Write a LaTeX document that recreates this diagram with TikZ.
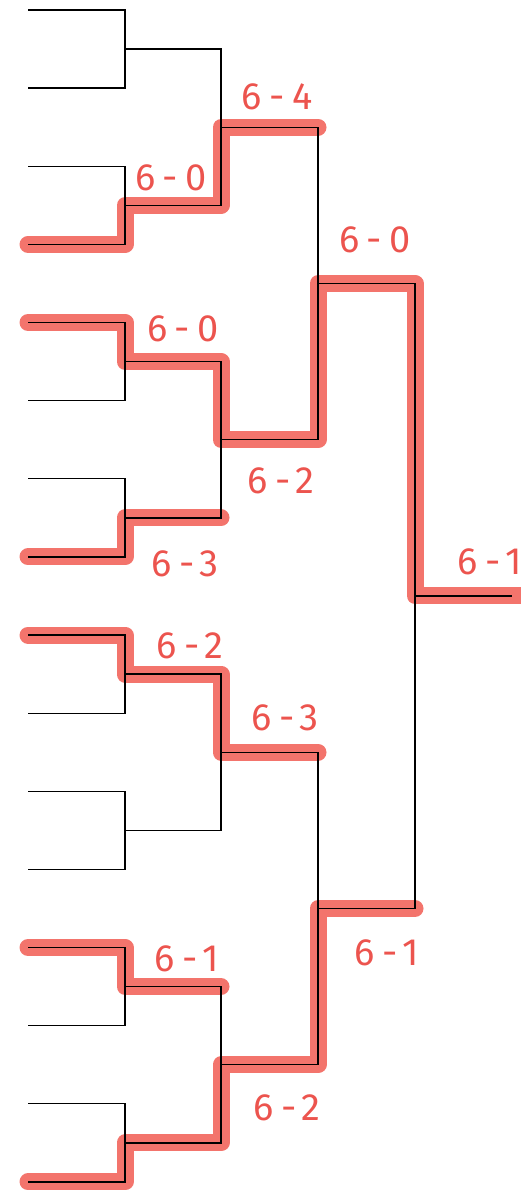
\documentclass[tikz,border=0pt]{standalone}
\usepackage{fontspec}
\usepackage{tikz}
\usetikzlibrary{calc}
\newfontfamily\scorefont[LetterSpace=20]{Fira Sans}
\definecolor{marker}{RGB}{243,116,108}
\definecolor{pen}{RGB}{236,84,78}
\tikzset{
  bracket/.style={line width=1.3pt, black},
  hl/.style={line width=17pt, marker, line cap=round, line join=round},
  score/.style={text=pen, font=\scorefont\fontsize{38}{38}\selectfont, inner sep=0pt}
}

\begin{document}
\begin{tikzpicture}[x=1pt, y=-1pt]
      \useasboundingbox (0,0) rectangle (520,1196);
      % Entries and match points
      \foreach \i in {1,...,16}
        \coordinate (e\i) at (28, {10+78.13*(\i-1)});
      \foreach \j in {1,...,8}
        \coordinate (a\j) at (125, {10+78.13*(2*\j-1.5)});
      \foreach \k in {1,...,4}
        \coordinate (b\k) at (221, {10+78.13*(4*\k-2.5)});
      \foreach \m in {1,2}
        \coordinate (c\m) at (318, {10+78.13*(8*\m-4.5)});
      \coordinate (d) at (415, {10+78.13*7.5});
      \coordinate (w) at (512, {10+78.13*7.5});
      \coordinate (wr) at (520, {10+78.13*7.5});

      % Highlighted winners
      \draw[hl] (e4) -| (a2) -| (b1) -- (b1 -| c1);
      \draw[hl] (e5) -| (a3) -| (b2) -| (c1) -| (d) -- (wr);
      \draw[hl] (e8) -| (a4) -- (a4 -| b2);
      \draw[hl] (e9) -| (a5) -| (b3) -- (b3 -| c2);
      \draw[hl] (e13) -| (a7) -- (a7 -| b4);
      \draw[hl] (e16) -| (a8) -| (b4) -| (c2) -- (c2 -| d);

      % First round
      \foreach \j [evaluate=\j as \p using int(2*\j-1),
                   evaluate=\j as \q using int(2*\j)] in {1,...,8}
        \draw[bracket] (e\p) -| (a\j) |- (e\q);
      % Second round
      \foreach \k [evaluate=\k as \p using int(2*\k-1),
                   evaluate=\k as \q using int(2*\k)] in {1,...,4}
        \draw[bracket] (a\p) -| (b\k) |- (a\q);
      % Third round
      \foreach \m [evaluate=\m as \p using int(2*\m-1),
                   evaluate=\m as \q using int(2*\m)] in {1,2}
        \draw[bracket] (b\p) -| (c\m) |- (b\q);
      % Final
      \draw[bracket] (c1) -| (d) |- (c2);
      \draw[bracket] (d) -- (w);

      % Scores
      \node[score] (s1) at (171,178) {6-0};
      \node[score] (s2) at (277,97) {6-4};
      \node[score] (s3) at (375,240) {6-0};
      \node[score] (s4) at (183,329) {6-0};
      \node[score] (s5) at (281,481) {6-2};
      \node[score] (s6) at (185,564) {6-3};
      \node[score] (s7) at (490,562) {6-1};
      \node[score] (s8) at (190,646) {6-2};
      \node[score] (s9) at (285,718) {6-3};
      \node[score] (s10) at (187,959) {6-1};
      \node[score] (s11) at (287,1108) {6-2};
      \node[score] (s12) at (387,953) {6-1};
    \end{tikzpicture}
\end{document}
